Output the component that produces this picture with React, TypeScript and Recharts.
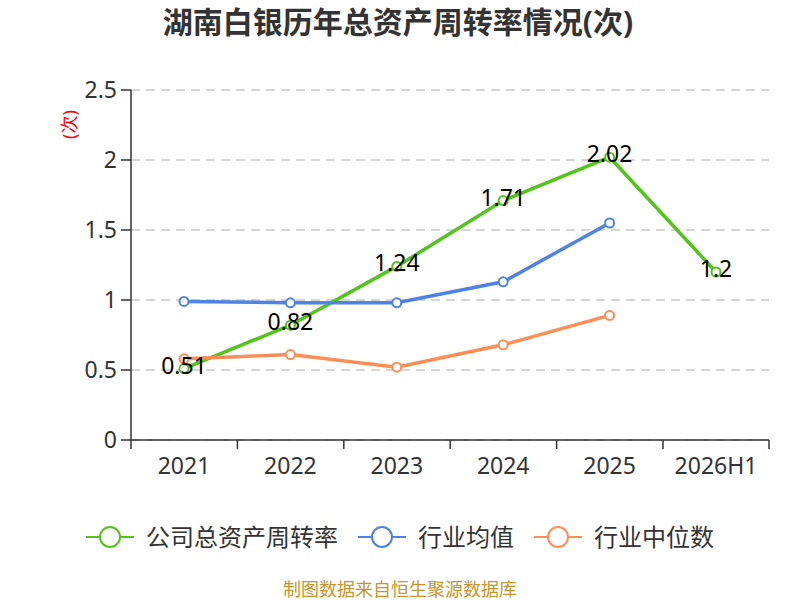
import { CartesianGrid, LabelList, Line, LineChart, XAxis, YAxis } from 'recharts'

const years = ['2021', '2022', '2023', '2024', '2025', '2026H1']
const company = [0.51, 0.82, 1.24, 1.71, 2.02, 1.2]
const industryAvg = [0.99, 0.98, 0.98, 1.13, 1.55, null]
const industryMedian = [0.58, 0.61, 0.52, 0.68, 0.89, null]
const yTicks = [0, 0.5, 1, 1.5, 2, 2.5]

const series = [
  { key: 'company', name: '公司总资产周转率', color: '#52c41a' },
  { key: 'avg', name: '行业均值', color: '#4e82e4' },
  { key: 'median', name: '行业中位数', color: '#ff8d56' },
]

const data = years.map((year, i) => ({
  year,
  company: company[i],
  avg: industryAvg[i],
  median: industryMedian[i],
}))

const font = "'Noto Sans', 'Noto Sans CJK SC', sans-serif"
// half of one category band, used both as axis padding and for the boundary ticks
const halfBand = 53
const xTickSize = 9
const xTickMargin = 9

function XTick(props: any) {
  const { x, y, payload, index, visibleTicksCount } = props
  const axisY = y - xTickSize - xTickMargin
  const isLast = index === visibleTicksCount - 1
  return (
    <g>
      <line x1={x - halfBand} y1={axisY} x2={x - halfBand} y2={axisY + xTickSize} stroke='#333' strokeWidth={1.5} />
      {isLast && (
        <line x1={x + halfBand} y1={axisY} x2={x + halfBand} y2={axisY + xTickSize} stroke='#333' strokeWidth={1.5} />
      )}
      <text x={x} y={y} dy='0.71em' textAnchor='middle' fontSize={23} fontFamily={font} fill='#333'>
        {payload.value}
      </text>
    </g>
  )
}

function PointLabel(props: any) {
  const { x, y, value } = props
  if (value == null) return null
  return (
    <text
      x={x}
      y={y - 4}
      textAnchor='middle'
      dominantBaseline='central'
      fontSize={23}
      fontFamily={font}
      fill='#000'
    >
      {value}
    </text>
  )
}

function Legend() {
  return (
    <div
      style={{
        position: 'absolute',
        top: 520,
        left: 0,
        width: 800,
        display: 'flex',
        justifyContent: 'center',
        gap: 20,
        fontFamily: font,
        fontSize: 24,
        color: '#333',
        lineHeight: '34px',
      }}
    >
      {series.map((s) => (
        <div key={s.key} style={{ display: 'flex', alignItems: 'center', gap: 12 }}>
          <svg width={48} height={24}>
            <line x1={0} y1={12} x2={48} y2={12} stroke={s.color} strokeWidth={2} />
            <circle cx={24} cy={12} r={10} fill='#fff' stroke={s.color} strokeWidth={2} />
          </svg>
          <span>{s.name}</span>
        </div>
      ))}
    </div>
  )
}

export default function App() {
  return (
    <div style={{ position: 'absolute', left: 0, top: 0, width: 800, height: 600, background: '#fff' }}>
      <div
        style={{
          position: 'absolute',
          top: 0,
          left: 0,
          width: 796,
          textAlign: 'center',
          fontFamily: font,
          fontWeight: 'bold',
          fontSize: 30,
          lineHeight: '44px',
          color: '#333',
        }}
      >
        湖南白银历年总资产周转率情况(次)
      </div>
      <div
        style={{
          position: 'absolute',
          left: 55,
          top: 111,
          width: 28,
          height: 28,
          transform: 'rotate(-90deg)',
          fontFamily: font,
          fontSize: 18,
          lineHeight: '28px',
          color: 'red',
          whiteSpace: 'nowrap',
          textAlign: 'center',
        }}
      >
        (次)
      </div>
      <LineChart width={800} height={600} data={data} margin={{ top: 90, right: 31, bottom: 130, left: 0 }}>
        <CartesianGrid vertical={false} stroke='#c8c8c8' strokeDasharray='9 6' strokeWidth={1.5} />
        <XAxis
          dataKey='year'
          height={30}
          stroke='#333'
          strokeWidth={1.5}
          tickLine={false}
          tickSize={xTickSize}
          tickMargin={xTickMargin}
          padding={{ left: halfBand, right: halfBand }}
          tick={<XTick />}
        />
        <YAxis
          width={131}
          domain={[0, 2.5]}
          ticks={yTicks}
          stroke='#333'
          strokeWidth={1.5}
          tickSize={10}
          tickMargin={4}
          tick={{ fontSize: 23, fill: '#333', fontFamily: font }}
        />
        {series.map((s) => (
          <Line
            key={s.key}
            dataKey={s.key}
            name={s.name}
            stroke={s.color}
            strokeWidth={3.5}
            dot={{ r: 4.5, fill: '#fff', stroke: s.color, strokeWidth: 2 }}
            activeDot={false}
            isAnimationActive={false}
          >
            {s.key === 'company' && <LabelList dataKey='company' content={<PointLabel />} />}
          </Line>
        ))}
      </LineChart>
      <Legend />
      <div
        style={{
          position: 'absolute',
          top: 577,
          left: 0,
          width: 800,
          textAlign: 'center',
          fontFamily: font,
          fontSize: 18,
          lineHeight: '24px',
          color: '#c8952b',
        }}
      >
        制图数据来自恒生聚源数据库
      </div>
    </div>
  )
}
